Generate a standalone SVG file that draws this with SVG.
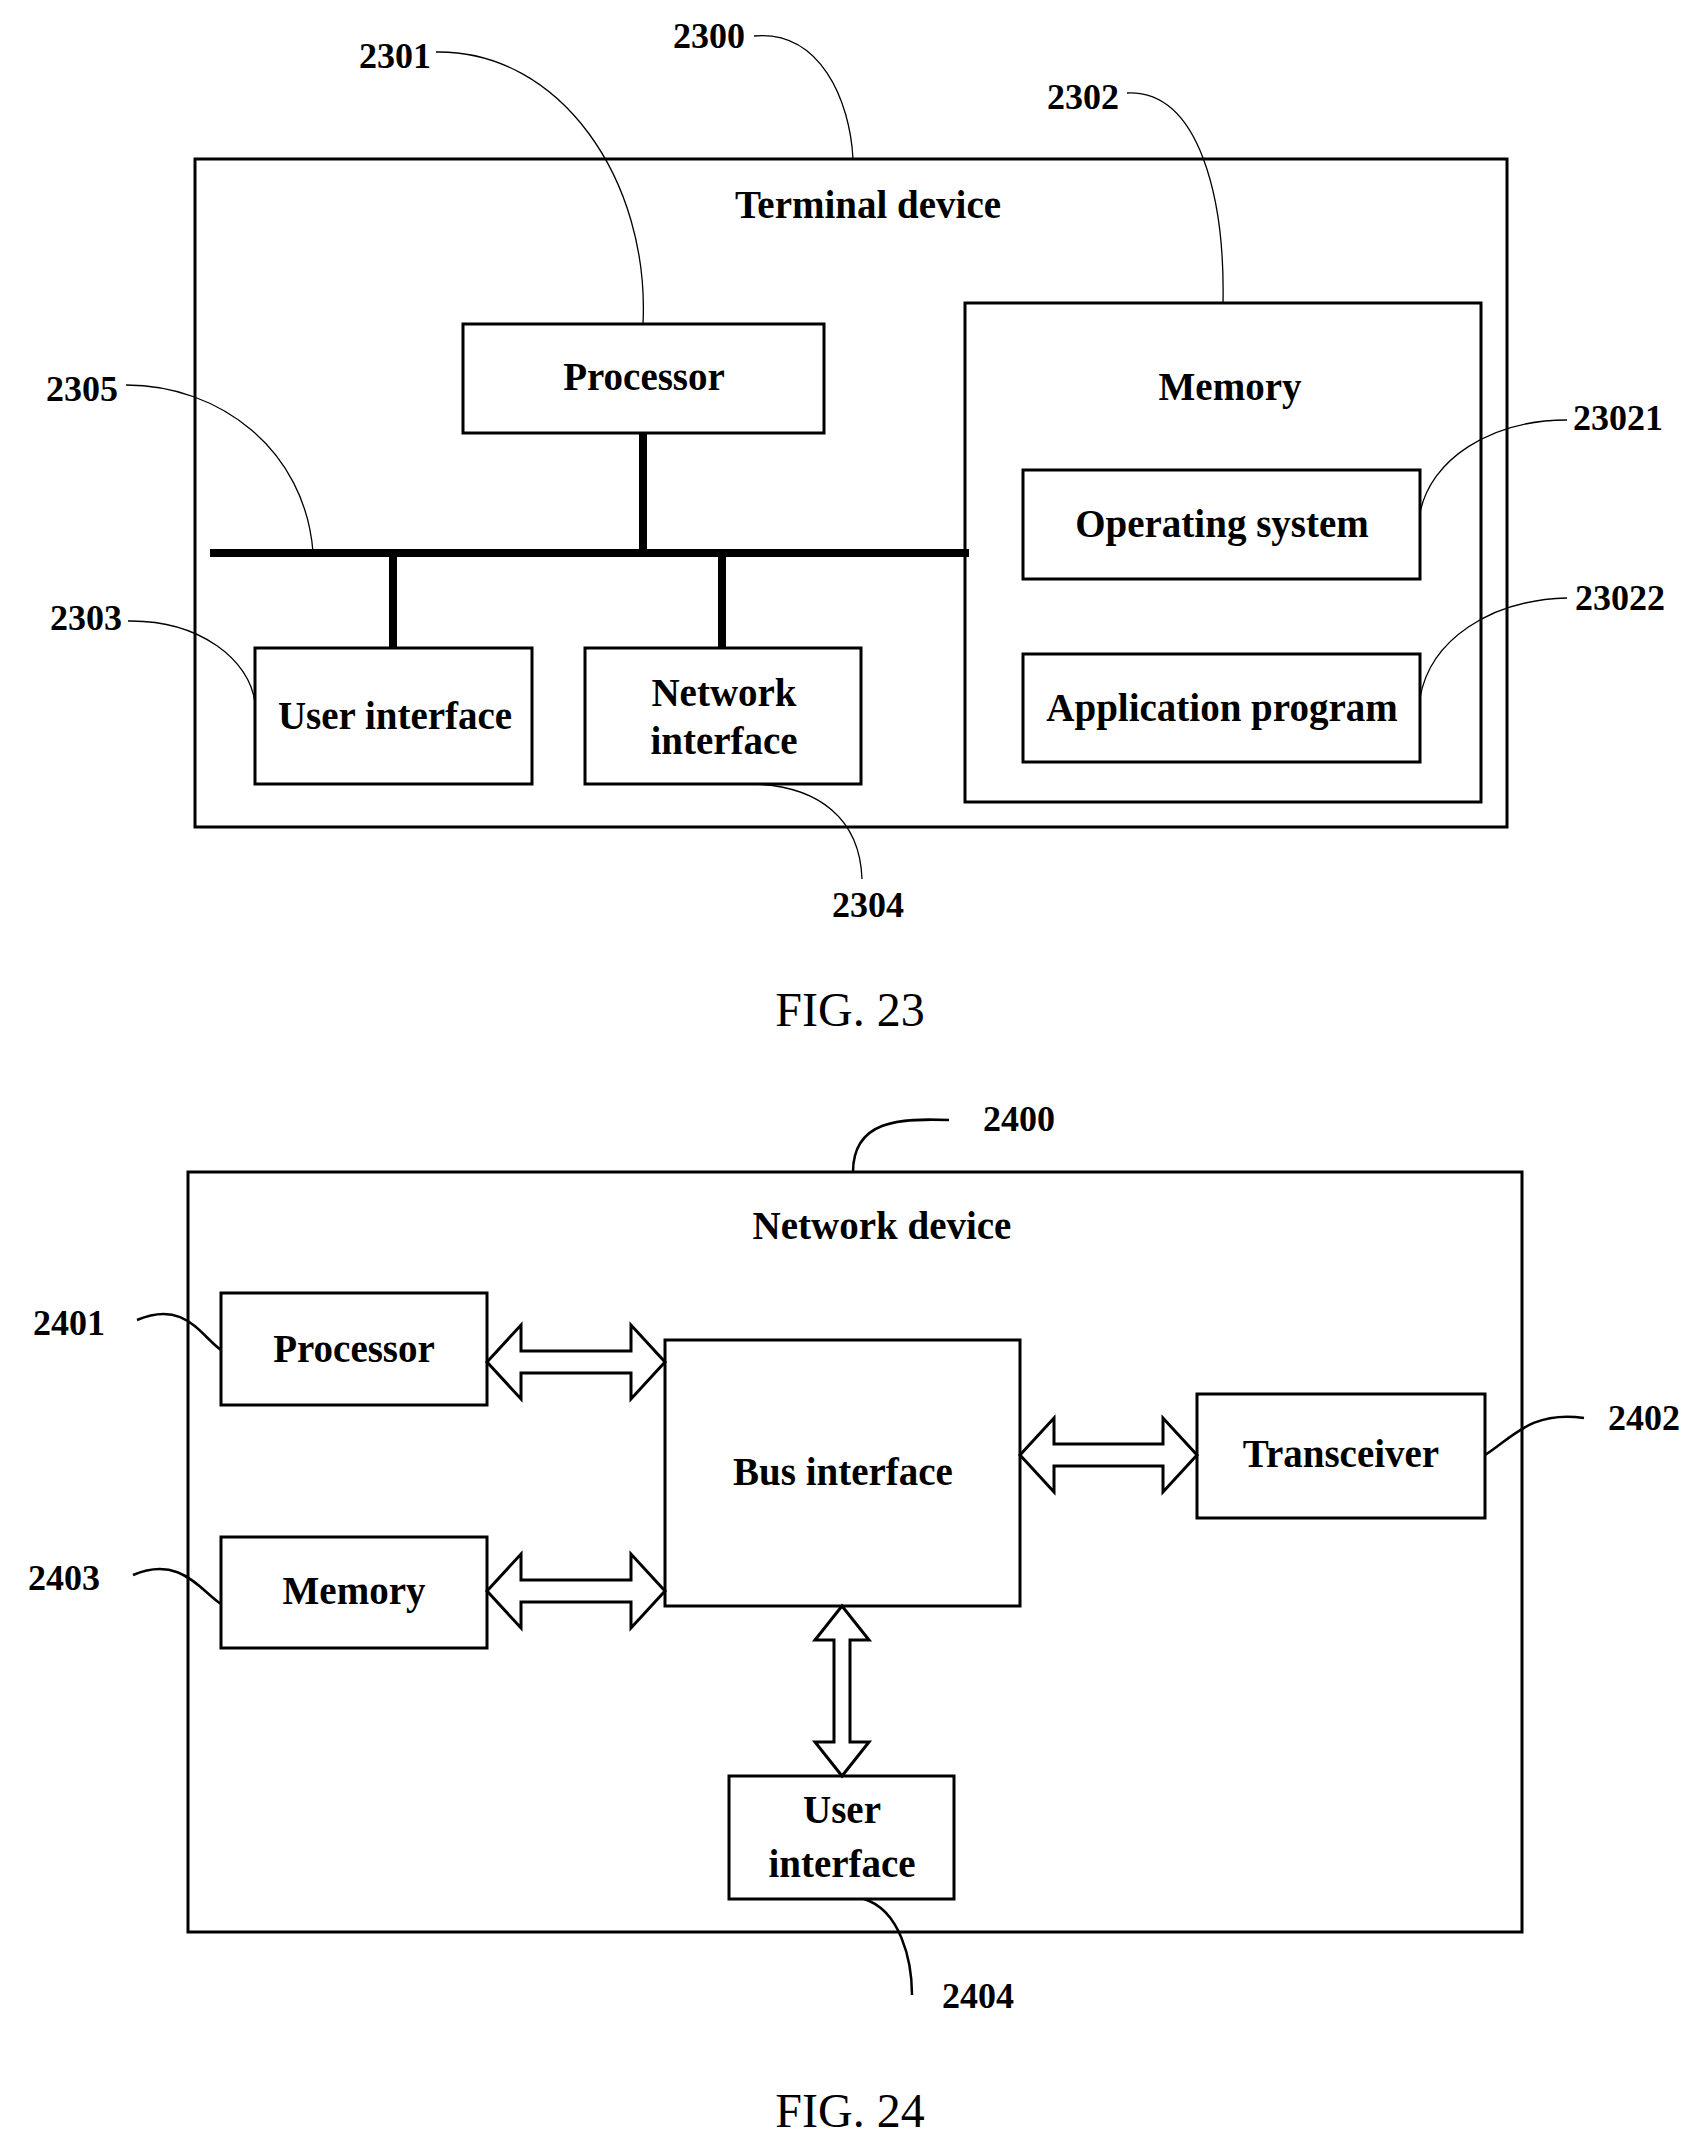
<svg xmlns="http://www.w3.org/2000/svg" width="1707" height="2146" viewBox="0 0 1707 2146">
<style>
.b{fill:#fff;stroke:#000;stroke-width:3}
.t{font-family:"Liberation Serif",serif;font-weight:bold;font-size:39px;text-anchor:middle}
.l{font-family:"Liberation Serif",serif;font-weight:bold;font-size:36px;text-anchor:middle}
.f{font-family:"Liberation Serif",serif;font-size:48px;text-anchor:middle}
.c{fill:none;stroke:#000;stroke-width:1.3}
.c2{fill:none;stroke:#000;stroke-width:2.5}
.a{fill:#fff;stroke:#000;stroke-width:3;stroke-linejoin:miter}
</style>
<rect width="1707" height="2146" fill="#fff"/>
<g id="fig23">
<g id="terminal"><rect class="b" x="195" y="159" width="1312" height="668"/><text class="t" x="868" y="218">Terminal device</text></g>
<g id="processor23"><rect class="b" x="463" y="324" width="361" height="109"/><text class="t" x="644" y="390">Processor</text></g>
<g id="memory23"><rect class="b" x="965" y="303" width="516" height="499"/><text class="t" x="1230" y="400">Memory</text></g>
<g id="os"><rect class="b" x="1023" y="470" width="397" height="109"/><text class="t" x="1222" y="537">Operating system</text></g>
<g id="app"><rect class="b" x="1023" y="654" width="397" height="108"/><text class="t" x="1222" y="721">Application program</text></g>
<g id="ui23"><rect class="b" x="255" y="648" width="277" height="136"/><text class="t" x="395" y="729">User interface</text></g>
<g id="ni23"><rect class="b" x="585" y="648" width="276" height="136"/><text class="t" x="724" y="706">Network</text><text class="t" x="724" y="754">interface</text></g>
</g>
<g id="fig24">
<g id="netdev"><rect class="b" x="188" y="1172" width="1334" height="760"/><text class="t" x="882" y="1239">Network device</text></g>
<g id="proc24"><rect class="b" x="221" y="1293" width="266" height="112"/><text class="t" x="354" y="1362">Processor</text></g>
<g id="mem24"><rect class="b" x="221" y="1537" width="266" height="111"/><text class="t" x="354" y="1604">Memory</text></g>
<g id="bus"><rect class="b" x="665" y="1340" width="355" height="266"/><text class="t" x="843" y="1485">Bus interface</text></g>
<g id="trans"><rect class="b" x="1197" y="1394" width="288" height="124"/><text class="t" x="1341" y="1467">Transceiver</text></g>
<g id="ui24"><rect class="b" x="729" y="1776" width="225" height="123"/><text class="t" x="842" y="1823">User</text><text class="t" x="842" y="1877">interface</text></g>
</g>
<g id="connectors">
<g stroke="#000" stroke-width="8" fill="none">
<line x1="210" y1="553" x2="969" y2="553"/>
<line x1="643" y1="433" x2="643" y2="553"/>
<line x1="393" y1="553" x2="393" y2="648"/>
<line x1="722" y1="553" x2="722" y2="648"/>
</g>
<path class="c" d="M754,36 C820,30 850,100 853,159"/>
<path class="c" d="M436,52 C560,50 650,180 643,324"/>
<path class="c" d="M1127,93 C1200,90 1225,200 1223,303"/>
<path class="c" d="M126,385 C220,385 305,450 313,552"/>
<path class="c" d="M1567,420 C1490,420 1430,460 1420,513"/>
<path class="c" d="M1567,598 C1490,600 1430,640 1420,698"/>
<path class="c" d="M128,621 C200,620 250,660 255,703"/>
<path class="c" d="M750,784 C820,785 860,820 862,879"/>
<path class="c2" d="M853,1172 C853,1120 900,1118 949,1120"/>
<path class="c2" d="M137,1320 C185,1300 200,1335 221,1350"/>
<path class="c2" d="M133,1575 C180,1555 200,1590 221,1604"/>
<path class="c2" d="M1584,1418 C1530,1410 1510,1440 1485,1455"/>
<path class="c2" d="M864,1899 C900,1910 912,1960 912,1995"/>
<path class="a" d="M487,1362 L521,1325 L521,1351 L631,1351 L631,1325 L665,1362 L631,1399 L631,1373 L521,1373 L521,1399 Z"/>
<path class="a" d="M487,1591 L521,1554 L521,1580 L631,1580 L631,1554 L665,1591 L631,1628 L631,1602 L521,1602 L521,1628 Z"/>
<path class="a" d="M1020,1455 L1054,1418 L1054,1444 L1163,1444 L1163,1418 L1197,1455 L1163,1492 L1163,1466 L1054,1466 L1054,1492 Z"/>
<path class="a" d="M842,1606 L869,1640 L850,1640 L850,1742 L869,1742 L842,1776 L815,1742 L834,1742 L834,1640 L815,1640 Z"/>
</g>
<g id="labels">
<text class="l" x="709" y="48">2300</text>
<text class="l" x="395" y="68">2301</text>
<text class="l" x="1083" y="109">2302</text>
<text class="l" x="82" y="401">2305</text>
<text class="l" x="1618" y="430">23021</text>
<text class="l" x="1620" y="610">23022</text>
<text class="l" x="86" y="630">2303</text>
<text class="l" x="868" y="917">2304</text>
<text class="f" x="850" y="1026">FIG. 23</text>
<text class="l" x="1019" y="1131">2400</text>
<text class="l" x="69" y="1335">2401</text>
<text class="l" x="64" y="1590">2403</text>
<text class="l" x="1644" y="1430">2402</text>
<text class="l" x="978" y="2008">2404</text>
<text class="f" x="850" y="2127">FIG. 24</text>
</g>
</svg>
